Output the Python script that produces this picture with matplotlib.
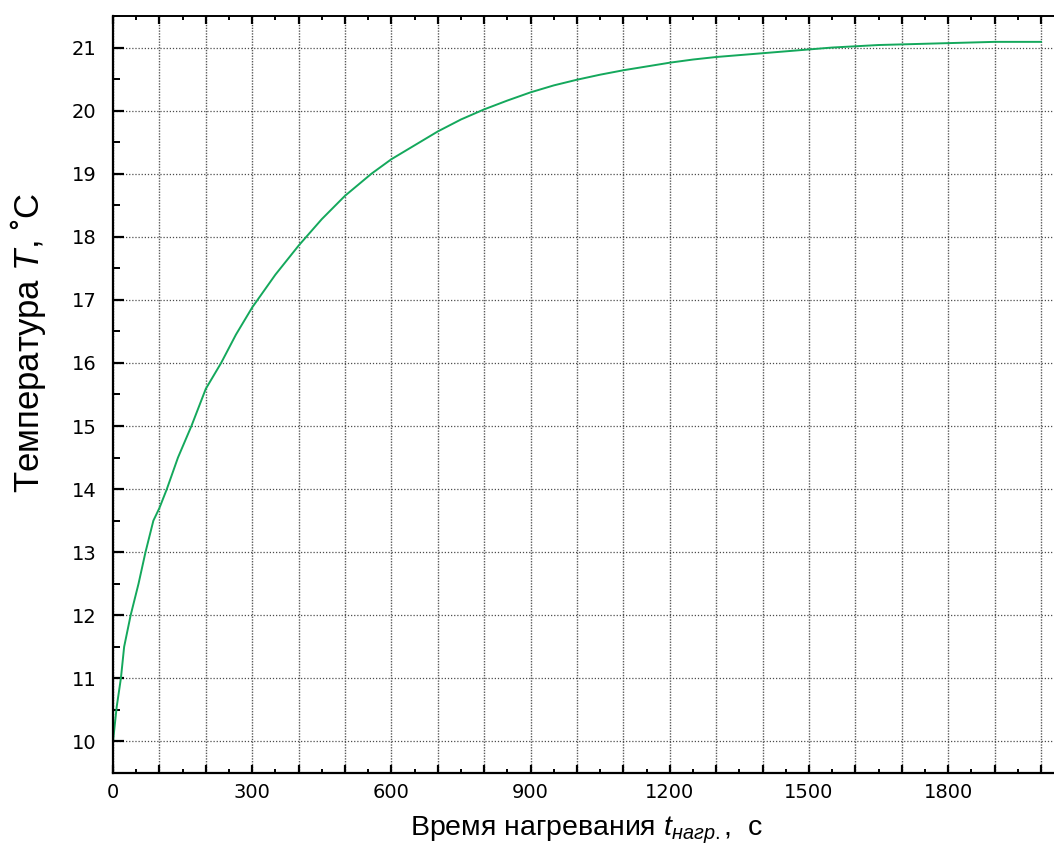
import numpy as np
import matplotlib.pyplot as plt
from matplotlib.ticker import MultipleLocator

# =========================
# DATA
# =========================
t = [0, 8, 17, 24, 38, 55, 70, 87, 100, 116, 140, 169, 200, 233, 265, 300,
     350, 400, 450, 500, 557, 600, 650, 700, 750, 800, 850, 900, 950, 1000,
     1050, 1100, 1150, 1200, 1250, 1300, 1350, 1400, 1450, 1500, 1550, 1600,
     1650, 1700, 1750, 1800, 1850, 1900, 1950, 2000]
T = [10.0, 10.55, 11.0, 11.5, 12.0, 12.5, 13.0, 13.5, 13.7, 14.0, 14.5, 15.0,
     15.59, 16.0, 16.45, 16.88, 17.4, 17.86, 18.28, 18.65, 19.0, 19.23, 19.45,
     19.67, 19.86, 20.02, 20.16, 20.29, 20.40, 20.49, 20.57, 20.64, 20.70,
     20.76, 20.81, 20.85, 20.88, 20.91, 20.94, 20.97, 21.0, 21.02, 21.04,
     21.05, 21.06, 21.07, 21.08, 21.09, 21.09, 21.09]

x_ticks = [0, 300, 600, 900, 1200, 1500, 1800]
y_ticks = list(range(10, 22))

plt.rcParams['mathtext.fontset'] = 'custom'
plt.rcParams['mathtext.rm'] = 'Liberation Sans'
plt.rcParams['mathtext.it'] = 'Liberation Sans:italic'

W, H = 1054, 847
fig = plt.figure(figsize=(W / 100, H / 100), dpi=100)
ax = fig.add_axes([113 / W, (H - 773) / H, (W - 113) / W, (773 - 16) / H])

ax.plot(t, T, color='#14a85c', linewidth=1.4)

# gridlines every 100 s and every 1 degree
ax.xaxis.set_major_locator(MultipleLocator(100))
ax.xaxis.set_minor_locator(MultipleLocator(50))
ax.yaxis.set_major_locator(MultipleLocator(1))
ax.yaxis.set_minor_locator(MultipleLocator(0.5))
ax.grid(True, which='major', axis='x', linestyle=(0, (1, 1)), color='0.35', linewidth=1.0)
ax.grid(True, which='major', axis='y', linestyle=(0, (1, 1.5)), color='0.3', linewidth=0.9)

ax.set_xlim(0, 2028)
xt = ax.get_xticks()
xlabels = [str(int(v)) if int(v) in x_ticks else '' for v in xt]
ax.set_xticks(xt)
ax.set_xticklabels(xlabels)
ax.set_xlim(0, 2028)
ax.set_yticks(y_ticks)
ax.set_ylim(9.5, 21.5)

ax.tick_params(axis='x', which='major', direction='in', length=6, width=1.6,
               top=True, labelsize=14, pad=7)
ax.tick_params(axis='x', which='minor', direction='in', length=3, width=1.4, top=True)
ax.tick_params(axis='y', which='major', direction='in', length=8, width=1.6,
               right=False, labelsize=14, pad=12)
ax.tick_params(axis='y', which='minor', direction='in', length=5, width=1.4, right=False)
for lab in ax.get_xticklabels() + ax.get_yticklabels():
    lab.set_family('DejaVu Sans')

ax.spines['right'].set_visible(False)
ax.spines['left'].set_linewidth(1.6)
ax.spines['bottom'].set_linewidth(1.6)
ax.spines['top'].set_linewidth(1.4)

fig.text(587 / W, 1 - 830 / H, 'Время нагревания $t_{нагр.}$,  с',
         ha='center', va='center', fontsize=20.5, family=['Liberation Sans', 'DejaVu Sans'])
fig.text(28 / W, 1 - 343 / H, 'Температура $T$, ˚C', rotation=90,
         ha='center', va='center', fontsize=25, family=['Liberation Sans', 'DejaVu Sans'])

fig.savefig('out.png', dpi=100)
